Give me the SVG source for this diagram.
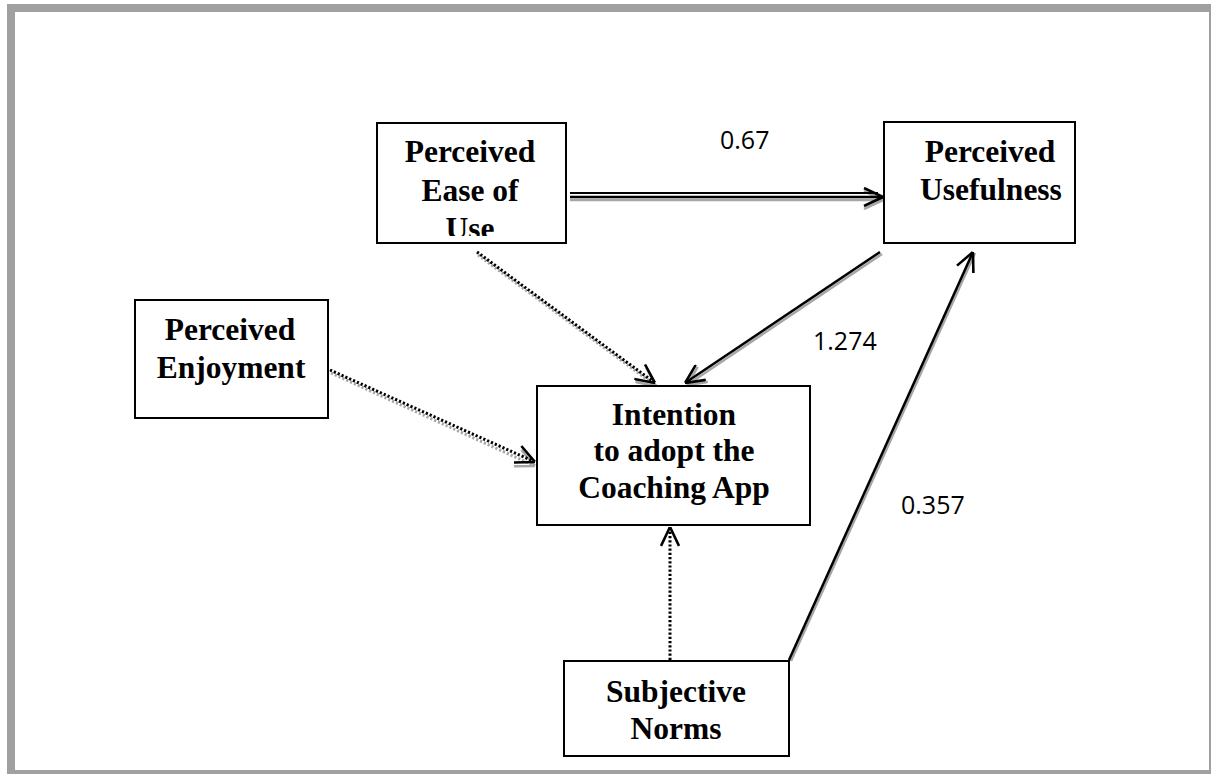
<svg xmlns="http://www.w3.org/2000/svg" width="1211" height="774" viewBox="0 0 1211 774">
<style>
.box{fill:#fff;stroke:#000;stroke-width:2}
.t{font-family:"Liberation Serif","Times New Roman",serif;font-weight:bold;font-size:31.5px;fill:#000;text-anchor:middle}
.num{font-family:"Open Sans","Liberation Sans",sans-serif;font-size:25px;fill:#000}
.solid{stroke:#000;stroke-width:2.5;fill:none}
.shadow{stroke:#a6a6a6;stroke-width:2.5;fill:none}
.dot{stroke:#000;stroke-width:3;stroke-dasharray:2.2 2;fill:none}
.dotsh{stroke:#a6a6a6;stroke-width:3;stroke-dasharray:2.2 2;fill:none}
</style>
<defs>
<marker id="arr" viewBox="0 0 20 20" refX="20" refY="10" markerWidth="20" markerHeight="20" markerUnits="userSpaceOnUse" orient="auto">
<path d="M1,1 L20,10 L1,19" fill="none" stroke="#000" stroke-width="2.6" stroke-dasharray="none"/>
</marker>
<marker id="arrsh" viewBox="0 0 20 20" refX="20" refY="10" markerWidth="20" markerHeight="20" markerUnits="userSpaceOnUse" orient="auto">
<path d="M1,1 L20,10 L1,19" fill="none" stroke="#a6a6a6" stroke-width="2.6" stroke-dasharray="none"/>
</marker>
<clipPath id="clipEase"><rect x="378" y="124" width="187" height="112"/></clipPath>
</defs>
<rect x="11" y="8" width="1202" height="766" fill="#fff" stroke="#a0a0a0" stroke-width="8"/>
<g id="connectors">
<!-- Ease -> Usefulness -->
<line x1="570" y1="200" x2="883" y2="200" class="shadow" marker-end="url(#arrsh)"/>
<line x1="570" y1="193" x2="878" y2="193" stroke="#000" stroke-width="2"/>
<line x1="570" y1="197" x2="883" y2="197" class="solid" marker-end="url(#arr)"/>
<!-- Usefulness -> Intention -->
<line x1="882" y1="254" x2="687" y2="385" class="shadow" marker-end="url(#arrsh)"/>
<line x1="880" y1="252" x2="685" y2="383" class="solid" marker-end="url(#arr)"/>
<!-- SN -> Usefulness -->
<line x1="791" y1="661" x2="975" y2="253" class="shadow"/>
<line x1="789" y1="660" x2="973" y2="252" class="solid" marker-end="url(#arr)"/>
<!-- Ease -> Intention -->
<line x1="478" y1="255" x2="656" y2="386" class="dotsh" marker-end="url(#arrsh)"/>
<line x1="477" y1="252" x2="655" y2="383" class="dot" marker-end="url(#arr)"/>
<!-- Enjoyment -> Intention -->
<line x1="331" y1="373" x2="535" y2="466" class="dotsh" marker-end="url(#arrsh)"/>
<line x1="330" y1="370" x2="535" y2="462" class="dot" marker-end="url(#arr)"/>
<!-- SN -> Intention -->
<line x1="670" y1="660" x2="670" y2="527" class="dot" marker-end="url(#arr)"/>
</g>
<g id="node-ease">
<rect x="377" y="123" width="189" height="120" class="box"/>
<g clip-path="url(#clipEase)">
<text class="t" x="470" y="162">Perceived</text>
<text class="t" x="470" y="201">Ease of</text>
<text class="t" x="470" y="239">Use</text>
</g>
</g>
<g id="node-usefulness">
<rect x="884" y="122" width="191" height="121" class="box"/>
<text class="t" x="990" y="162">Perceived</text>
<text class="t" x="991" y="200">Usefulness</text>
</g>
<g id="node-enjoyment">
<rect x="135" y="300" width="193" height="118" class="box"/>
<text class="t" x="230" y="340">Perceived</text>
<text class="t" x="231" y="378">Enjoyment</text>
</g>
<g id="node-intention">
<rect x="537" y="386" width="273" height="139" class="box"/>
<text class="t" x="674" y="425">Intention</text>
<text class="t" x="674" y="461">to adopt the</text>
<text class="t" x="674" y="498">Coaching App</text>
</g>
<g id="node-sn">
<rect x="564" y="661" width="225" height="95" class="box"/>
<text class="t" x="676" y="702">Subjective</text>
<text class="t" x="676" y="739">Norms</text>
</g>
<g id="labels">
<text class="num" x="720" y="149">0.67</text>
<text class="num" x="813" y="350">1.274</text>
<text class="num" x="901" y="514">0.357</text>
</g>
</svg>
